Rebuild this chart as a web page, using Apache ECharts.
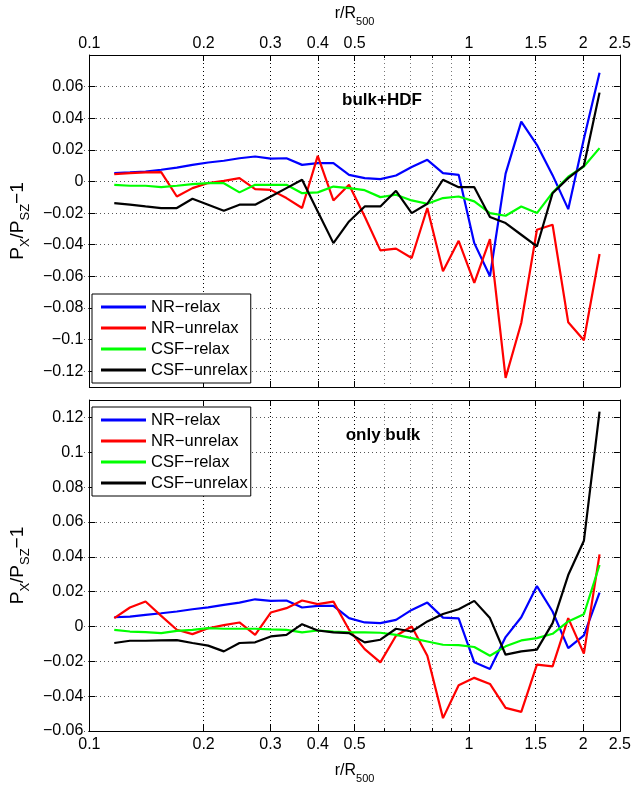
<!DOCTYPE html>
<html><head><meta charset="utf-8">
<script src="https://cdn.jsdelivr.net/npm/echarts@6/dist/echarts.min.js"></script>
<style>html,body{margin:0;padding:0;background:#fff}#c{width:634px;height:785px}</style>
</head><body><div id="c"></div>
<script>
// radial bins r/R500
const r = [0.1163,0.1279,0.1406,0.1546,0.1700,0.1869,0.2056,0.2261,0.2486,0.2734,0.3006,0.3306,0.3635,0.3997,0.4396,0.4833,0.5315,0.5845,0.6427,0.7068,0.7772,0.8547,0.9399,1.0335,1.1365,1.2497,1.3743,1.5112,1.6618,1.8274,2.0096,2.2098];

// upper panel: bulk+HDF
const topNRrelax   = [0.0053,0.0057,0.0063,0.0074,0.0088,0.0105,0.0120,0.0131,0.0147,0.0158,0.0145,0.0147,0.0105,0.0116,0.0116,0.0042,0.0021,0.0015,0.0038,0.0091,0.0137,0.0053,0.0042,-0.0390,-0.0600,0.0050,0.0379,0.0232,0.0040,-0.0175,0.0270,0.0688];
const topNRunrelax = [0.0046,0.0053,0.0057,0.0059,-0.0095,-0.0042,-0.0010,0.0004,0.0021,-0.0048,-0.0053,-0.0105,-0.0168,0.0162,-0.0120,-0.0021,-0.0222,-0.0436,-0.0425,-0.0484,-0.0168,-0.0568,-0.0375,-0.0642,-0.0364,-0.1242,-0.0895,-0.0305,-0.0274,-0.0891,-0.1004,-0.0459];
const topCSFrelax  = [-0.0021,-0.0027,-0.0027,-0.0036,-0.0027,-0.0017,-0.0011,-0.0011,-0.0069,-0.0021,-0.0021,-0.0021,-0.0074,-0.0069,-0.0032,-0.0042,-0.0055,-0.0099,-0.0084,-0.0120,-0.0141,-0.0105,-0.0095,-0.0126,-0.0200,-0.0217,-0.0158,-0.0200,-0.0070,0.0030,0.0095,0.0211];
const topCSFunrelax= [-0.0137,-0.0147,-0.0158,-0.0168,-0.0168,-0.0109,-0.0147,-0.0185,-0.0147,-0.0147,-0.0095,-0.0042,0.0011,-0.0190,-0.0390,-0.0253,-0.0158,-0.0158,-0.0059,-0.0200,-0.0141,0.0011,-0.0036,-0.0036,-0.0225,-0.0263,-0.0337,-0.0411,-0.0074,0.0021,0.0099,0.0562];

// lower panel: only bulk
const botNRrelax   = [0.0053,0.0057,0.0067,0.0076,0.0086,0.0099,0.0110,0.0124,0.0137,0.0156,0.0147,0.0149,0.0109,0.0118,0.0118,0.0048,0.0023,0.0019,0.0038,0.0095,0.0137,0.0051,0.0046,-0.0206,-0.0244,-0.0061,0.0053,0.0232,0.0086,-0.0124,-0.0051,0.0194];
const botNRunrelax = [0.0048,0.0109,0.0143,0.0061,-0.0019,-0.0044,-0.0010,0.0008,0.0023,-0.0048,0.0080,0.0105,0.0149,0.0128,0.0143,-0.0019,-0.0130,-0.0206,-0.0053,0.0000,-0.0168,-0.0526,-0.0337,-0.0295,-0.0330,-0.0467,-0.0490,-0.0219,-0.0229,0.0048,-0.0156,0.0414];
const botCSFrelax  = [-0.0019,-0.0029,-0.0032,-0.0038,-0.0025,-0.0019,-0.0010,-0.0013,-0.0013,-0.0013,-0.0017,-0.0020,-0.0034,-0.0023,-0.0029,-0.0034,-0.0034,-0.0036,-0.0048,-0.0067,-0.0086,-0.0105,-0.0107,-0.0118,-0.0168,-0.0114,-0.0080,-0.0067,-0.0042,0.0029,0.0070,0.0353];
const botCSFunrelax= [-0.0095,-0.0082,-0.0082,-0.0080,-0.0078,-0.0095,-0.0110,-0.0143,-0.0095,-0.0091,-0.0057,-0.0048,0.0013,-0.0023,-0.0034,-0.0038,-0.0091,-0.0076,-0.0013,-0.0029,0.0029,0.0072,0.0099,0.0147,0.0048,-0.0162,-0.0143,-0.0133,0.0019,0.0295,0.0492,0.1233];

const seriesNames = ['NR\u2212relax','NR\u2212unrelax','CSF\u2212relax','CSF\u2212unrelax'];
const seriesColors = ['#0000ff','#ff0000','#00ff00','#000000'];
const xTicks = [0.1,0.2,0.3,0.4,0.5,1,1.5,2,2.5];
const xMinor = [0.6,0.7,0.8,0.9];
const topYTicks = [-0.12,-0.1,-0.08,-0.06,-0.04,-0.02,0,0.02,0.04,0.06];
const botYTicks = [-0.06,-0.04,-0.02,0,0.02,0.04,0.06,0.08,0.1,0.12];
const panelLabels = ['bulk+HDF','only bulk'];

const FONT = 'Liberation Sans, Arial, Helvetica, sans-serif';
const fmtNum = v => String(+(+v).toPrecision(3)).replace('-', '\u2212');

// panel layout (pixels) and y ranges
const panels = [
  {top: 55, height: 332, yMin: -0.13, yMax: 0.08, ticks: topYTicks},
  {top: 400, height: 331, yMin: -0.06, yMax: 0.13, ticks: botYTicks}
];

function richName(big, small) {
  return {rich: {
    a: {fontSize: big, fontFamily: FONT, color: '#000', lineHeight: big + 4, verticalAlign: 'top'},
    s: {fontSize: small, fontFamily: FONT, color: '#000', lineHeight: big + 5, verticalAlign: 'bottom'}
  }};
}

function xAxes(grid, labelPos) {
  const other = labelPos === 'top' ? 'bottom' : 'top';
  const base = {gridIndex: grid, type: 'log', logBase: 10, min: 0.1, max: 2.5};
  const line = {onZero: false, lineStyle: {color: '#000', width: 1}};
  return [
    Object.assign({}, base, {
      position: labelPos,
      name: '{a|r/R}{s|500}', nameLocation: 'middle', nameGap: labelPos === 'top' ? 28 : 32,
      nameTextStyle: richName(16, 11),
      axisLine: line,
      axisTick: {inside: true, length: 6, customValues: xTicks, lineStyle: {color: '#000'}},
      axisLabel: {customValues: xTicks, formatter: fmtNum, fontSize: 16, fontFamily: FONT, color: '#000', margin: labelPos === 'top' ? 3 : 6},
      splitLine: {show: true, lineStyle: {color: '#000', type: [1, 3], width: 1}},
      minorTick: {show: false}
    }),
    Object.assign({}, base, {
      position: other,
      axisLine: line,
      axisTick: {inside: true, length: 6, customValues: xTicks, lineStyle: {color: '#000'}},
      axisLabel: {show: false},
      splitLine: {show: false}
    }),
    Object.assign({}, base, {
      position: labelPos,
      axisLine: {show: false, onZero: false},
      axisTick: {inside: true, length: 3, customValues: xMinor, lineStyle: {color: '#000'}},
      axisLabel: {show: false},
      splitLine: {show: true, lineStyle: {color: '#777', type: [1, 3], width: 1}}
    })
  ];
}

function yAxes(grid, mn, mx, ticks) {
  const base = {gridIndex: grid, type: 'value', min: mn, max: mx};
  return [
    Object.assign({}, base, {
      position: 'left',
      name: '{a|P}{s|X}{a|/P}{s|SZ}{a|\u22121}', nameLocation: 'middle', nameGap: 45, nameRotate: 90,
      nameTextStyle: richName(19, 13),
      axisLine: {show: true, onZero: false, lineStyle: {color: '#000', width: 1}},
      axisTick: {show: true, inside: true, length: 6, customValues: ticks, lineStyle: {color: '#000'}},
      axisLabel: {customValues: ticks, formatter: fmtNum, fontSize: 16, fontFamily: FONT, color: '#000', margin: 6},
      splitLine: {show: false}
    }),
    Object.assign({}, base, {
      position: 'right',
      axisLine: {show: true, onZero: false, lineStyle: {color: '#000', width: 1}},
      axisTick: {show: true, inside: true, length: 6, customValues: ticks, lineStyle: {color: '#000'}},
      axisLabel: {show: false},
      splitLine: {show: false}
    })
  ];
}

// grids: 0,1 = data panels; 2,3 = overlays spanning the labelled tick range, carrying horizontal dotted grid lines
const grids = panels.map(p => ({left: 84, right: 12, top: p.top, height: p.height}));
panels.forEach(p => {
  const lo = p.ticks[0], hi = p.ticks[p.ticks.length - 1];
  const pxPer = p.height / (p.yMax - p.yMin);
  grids.push({left: 84, right: 12, top: p.top + (p.yMax - hi) * pxPer, height: (hi - lo) * pxPer});
});

const xAxisList = [...xAxes(0, 'top'), ...xAxes(1, 'bottom')];
const yAxisList = [...yAxes(0, panels[0].yMin, panels[0].yMax, topYTicks), ...yAxes(1, panels[1].yMin, panels[1].yMax, botYTicks)];
panels.forEach((p, i) => {
  xAxisList.push({gridIndex: 2 + i, type: 'value', min: 0, max: 1, show: false});
  yAxisList.push({
    gridIndex: 2 + i, type: 'value', min: p.ticks[0], max: p.ticks[p.ticks.length - 1], interval: 0.02,
    axisLine: {show: false}, axisTick: {show: false}, axisLabel: {show: false},
    splitLine: {show: true, lineStyle: {color: '#555', type: [1, 3], width: 1}}
  });
});

const topData = [topNRrelax, topNRunrelax, topCSFrelax, topCSFunrelax];
const botData = [botNRrelax, botNRunrelax, botCSFrelax, botCSFunrelax];

const series = [];
[topData, botData].forEach((set, p) => {
  set.forEach((vals, k) => {
    series.push({
      name: seriesNames[k], type: 'line', xAxisIndex: p * 3, yAxisIndex: p * 2,
      data: r.map((x, i) => [x, vals[i]]),
      showSymbol: false, symbol: 'none', smooth: false,
      lineStyle: {color: seriesColors[k], width: 2.2},
      itemStyle: {color: seriesColors[k]},
      z: 3, animation: false
    });
  });
});

const legendBase = {
  orient: 'vertical', left: 92, data: seriesNames,
  icon: 'rect', itemWidth: 45, itemHeight: 3, itemGap: 3,
  backgroundColor: '#fff', borderColor: '#000', borderWidth: 1, borderRadius: 0,
  padding: [4, 3, 4, 9],
  textStyle: {fontSize: 16.5, fontFamily: FONT, color: '#000', lineHeight: 18},
  selectedMode: false, z: 10
};

const option = {
  animation: false,
  backgroundColor: '#fff',
  grid: grids,
  xAxis: xAxisList,
  yAxis: yAxisList,
  legend: [
    Object.assign({}, legendBase, {top: 294}),
    Object.assign({}, legendBase, {top: 407})
  ],
  graphic: [
    {type: 'text', x: 382, y: 100, z: 20, style: {text: panelLabels[0], font: 'bold 17px ' + FONT, fill: '#000', align: 'center', verticalAlign: 'middle'}},
    {type: 'text', x: 383, y: 435, z: 20, style: {text: panelLabels[1], font: 'bold 17px ' + FONT, fill: '#000', align: 'center', verticalAlign: 'middle'}}
  ],
  series: series
};

const chart = echarts.init(document.getElementById('c'), null, {renderer: 'canvas'});
chart.setOption(option);
</script>
</body></html>
